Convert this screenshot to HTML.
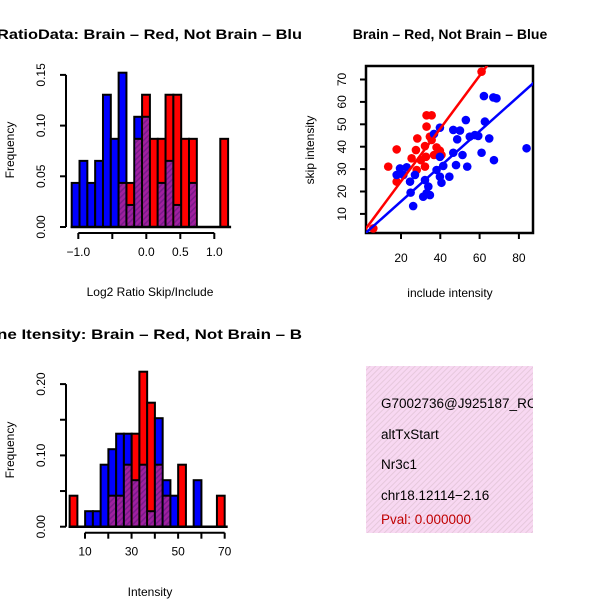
<!DOCTYPE html>
<html><head><meta charset="utf-8"><style>
body{margin:0;background:#fff}
svg{display:block;font-family:"Liberation Sans",sans-serif}
</style></head><body>
<svg id="c" width="600" height="600" viewBox="0 0 600 600">
<defs>
<pattern id="hatch" width="4" height="4" patternUnits="userSpaceOnUse" patternTransform="rotate(45)">
<rect width="4" height="4" fill="#a020a0"/><rect width="1.5" height="4" fill="#7a1a8a"/></pattern>
<pattern id="pink" width="4" height="4" patternUnits="userSpaceOnUse" patternTransform="rotate(45)">
<rect width="4" height="4" fill="#f8d8f2"/><rect width="1" height="4" fill="#e6c8dc"/></pattern>
<clipPath id="sc"><rect x="366" y="66" width="167" height="167"/></clipPath>
<clipPath id="ic"><rect x="366" y="366" width="167" height="167"/></clipPath>
</defs>
<g id="h1"></g>
<g id="h2"></g>
<g id="sp"></g>
<g clip-path="url(#ic)">
<rect x="366" y="366" width="167" height="167" fill="url(#pink)"/>
<text x="381" y="408" font-size="13.5">G7002736@J925187_RC</text>
<text x="381" y="439" font-size="13.5">altTxStart</text>
<text x="381" y="469" font-size="13.5">Nr3c1</text>
<text x="381" y="500" font-size="13.5">chr18.12114−2.16</text>
<text x="381" y="524" font-size="13.5" fill="#c00000">Pval: 0.000000</text>
</g>
</svg>
<script>
// ---- data ----
const h1Start=-1.097, h1Width=0.115, u=1/46;
const h1Blue=[2,3,2,3,6,4,7,1,5,5,0,2,3,1,0,2,0,0,0,0];
const h1Red =[0,0,0,0,0,0,2,2,4,6,4,4,6,6,4,4,0,0,0,4];
const h1XTicks=[-1.0,-0.5,0.0,0.5,1.0];
const h1XLabels=["−1.0","","0.0","0.5","1.0"];
const h1YTicks=[0,0.05,0.10,0.15];
const h1YLabels=["0.00","0.05","0.10","0.15"];
const h2Start=3.4, h2Width=3.33;
const h2Blue=[0,0,1,1,4,5,6,6,3,4,1,7,3,2,0,0,3,0,0,0];
const h2Red =[2,0,0,0,0,2,2,4,6,10,8,4,2,0,4,0,0,0,0,2];
const h2XTicks=[10,20,30,40,50,60,70];
const h2XLabels=["10","","30","","50","","70"];
const h2YTicks=[0,0.05,0.10,0.15,0.20];
const h2YLabels=["0.00","","0.10","","0.20"];
const redX=[61,33,35.6,33,28.3,35.6,17.8,27.6,32.2,38.1,39.8,25.4,30.1,36.8,40.6,13.5,32.2,28,17.8,5.9,32.7,34.7];
const redY=[73.5,54,54,49,43.7,43,38.8,38.5,40.3,39.7,38.2,34.8,34,36.3,36.3,31.1,31.1,29.6,24.4,3.5,35.5,44.5];
const blueX=[62.2,67,68.6,53,62.7,39.8,36.8,46.6,50,48.6,55,57.6,59.3,64.9,83.9,39.8,46.6,51.3,61,67.3,48,53.7,41.5,19.5,22.9,17.8,21.2,27.1,24.6,39.8,44.6,40.6,32.2,33.9,33,31.3,34.7,24.9,26.2,38.1];
const blueY=[62.6,62,61.6,51.9,51.2,48.5,45.7,47.5,47.2,43.3,44.5,45.2,44.8,43.7,39.3,35.5,37.3,36.3,37.3,34,31.8,31.1,31.4,30.3,30.8,27.4,27.4,27.4,24.4,26.6,26.6,23.9,25.1,22.2,19.2,17.7,18.4,19.5,13.5,29.6];
const fitSlope=[1.18,0.784], fitIntercept=[0.9,-0.1];
const spXTicks=[20,40,60,80], spYTicks=[10,20,30,40,50,60,70];

const NS="http://www.w3.org/2000/svg";
function mk(p,t,a){const e=document.createElementNS(NS,t);for(const k in a)e.setAttribute(k,a[k]);p.appendChild(e);return e;}

function hist(g,o){
  const X=v=>o.x0+(v-o.v0)*o.kx, Y=f=>o.y0-f*o.ky;
  const n=o.blue.length;
  for(let i=0;i<n;i++){
    const b=o.blue[i]*u, r=o.red[i]*u;
    const xa=X(o.start+i*o.w), xb=X(o.start+(i+1)*o.w);
    const hi=Math.max(b,r), lo=Math.min(b,r);
    if(hi>0){
      const el=mk(g,'rect',{x:xa,y:Y(hi),width:xb-xa,height:Y(0)-Y(hi),fill:b>r?'#0000ff':'#ff0000',stroke:'#000','stroke-width':2});
      
      
    }
    if(lo>0){
      const el=mk(g,'rect',{x:xa+1,y:Y(lo),width:xb-xa-2,height:Y(0)-Y(lo)-1,fill:'url(#hatch)'});
      mk(g,'line',{x1:xa,x2:xb,y1:Y(lo),y2:Y(lo),stroke:'#000','stroke-width':2});
      
      
    }
  }
  mk(g,'line',{x1:X(o.start)-1,x2:X(o.start+n*o.w)+3,y1:Y(0),y2:Y(0),stroke:'#000','stroke-width':2.5});
  const ax=mk(g,'g',{});
  
  const ay0=Y(0)+6;
  mk(ax,'line',{x1:X(o.xt[0]),x2:X(o.xt[o.xt.length-1]),y1:ay0,y2:ay0,stroke:'#000','stroke-width':2});
  o.xt.forEach((t,i)=>{mk(ax,'line',{x1:X(t),x2:X(t),y1:ay0,y2:ay0+6,stroke:'#000','stroke-width':2});
    if(o.xl[i]){const tx=mk(ax,'text',{x:X(t),y:ay0+23,'font-size':12,'text-anchor':'middle'});tx.textContent=o.xl[i];}});
  const yax=mk(g,'g',{});
  
  const axx=o.yaxX;
  mk(yax,'line',{x1:axx,x2:axx,y1:Y(0),y2:Y(o.yt[o.yt.length-1]),stroke:'#000','stroke-width':2});
  o.yt.forEach((t,i)=>{mk(yax,'line',{x1:axx-6,x2:axx,y1:Y(t),y2:Y(t),stroke:'#000','stroke-width':2});
    if(o.yl[i]){const tx=mk(yax,'text',{x:0,y:0,'font-size':12,'text-anchor':'middle',transform:`translate(${axx-21},${Y(t)}) rotate(-90)`});tx.textContent=o.yl[i];}});
  const yt=mk(g,'text',{x:0,y:0,'font-size':12,'text-anchor':'middle',transform:`translate(14,${o.ymid}) rotate(-90)`});yt.textContent='Frequency';
  
  const xt=mk(g,'text',{x:150,y:o.xtitleY,'font-size':12,'text-anchor':'middle'});xt.textContent=o.xtitle;
  
  const tt=mk(g,'text',{x:-3,y:o.titleY,'font-size':14,'font-weight':'bold',textLength:305,lengthAdjust:'spacingAndGlyphs'});tt.textContent=o.title;
  
}
hist(document.getElementById('h1'),{x0:146.3,v0:0,kx:68,y0:227,ky:1014,start:h1Start,w:h1Width,blue:h1Blue,red:h1Red,
  xt:h1XTicks,xl:h1XLabels,yt:h1YTicks,yl:h1YLabels,yaxX:66,ymid:150,xtitle:'Log2 Ratio Skip/Include',xtitleY:296,
  title:'RatioData: Brain – Red, Not Brain – Blu',titleY:39});
hist(document.getElementById('h2'),{x0:85,v0:10,kx:2.328,y0:526.7,ky:713,start:h2Start,w:h2Width,blue:h2Blue,red:h2Red,
  xt:h2XTicks,xl:h2XLabels,yt:h2YTicks,yl:h2YLabels,yaxX:66,ymid:450,xtitle:'Intensity',xtitleY:596,
  title:'ne Itensity: Brain – Red, Not Brain – B',titleY:339});

(function(){
  const g=document.getElementById('sp');
  const X=v=>361.7+v*1.965, Y=v=>236.3-v*2.24;
  mk(g,'rect',{x:366,y:66,width:167,height:167,fill:'#fff',stroke:'#000','stroke-width':2.5});
  const pg=mk(g,'g',{'clip-path':'url(#sc)'});
  redX.forEach((x,i)=>{const c=mk(pg,'circle',{cx:X(x),cy:Y(redY[i]),r:4.3,fill:'#ff0000'});
    });
  blueX.forEach((x,i)=>{const c=mk(pg,'circle',{cx:X(x),cy:Y(blueY[i]),r:4.3,fill:'#0000ff'});
    });
  ['#ff0000','#0000ff'].forEach((col,i)=>{const x1=0,x2=100;
    const l=mk(pg,'line',{x1:X(x1),y1:Y(fitIntercept[i]+fitSlope[i]*x1),x2:X(x2),y2:Y(fitIntercept[i]+fitSlope[i]*x2),stroke:col,'stroke-width':2.5});
    });
  spXTicks.forEach(t=>{mk(g,'line',{x1:X(t),x2:X(t),y1:233,y2:239,stroke:'#000','stroke-width':2});
    const tx=mk(g,'text',{x:X(t),y:262,'font-size':12,'text-anchor':'middle'});tx.textContent=t;});
  spYTicks.forEach(t=>{mk(g,'line',{x1:360,x2:366,y1:Y(t),y2:Y(t),stroke:'#000','stroke-width':2});
    const tx=mk(g,'text',{x:0,y:0,'font-size':12,'text-anchor':'middle',transform:`translate(346,${Y(t)}) rotate(-90)`});tx.textContent=t;});
  const xt=mk(g,'text',{x:450,y:297,'font-size':12,'text-anchor':'middle'});xt.textContent='include intensity';
  
  const yt=mk(g,'text',{x:0,y:0,'font-size':12,'text-anchor':'middle',transform:'translate(314,150) rotate(-90)'});yt.textContent='skip intensity';
  
  const tt=mk(g,'text',{x:450,y:39,'font-size':14,'font-weight':'bold','text-anchor':'middle'});tt.textContent='Brain – Red, Not Brain – Blue';
  
})();
</script>
</body></html>
